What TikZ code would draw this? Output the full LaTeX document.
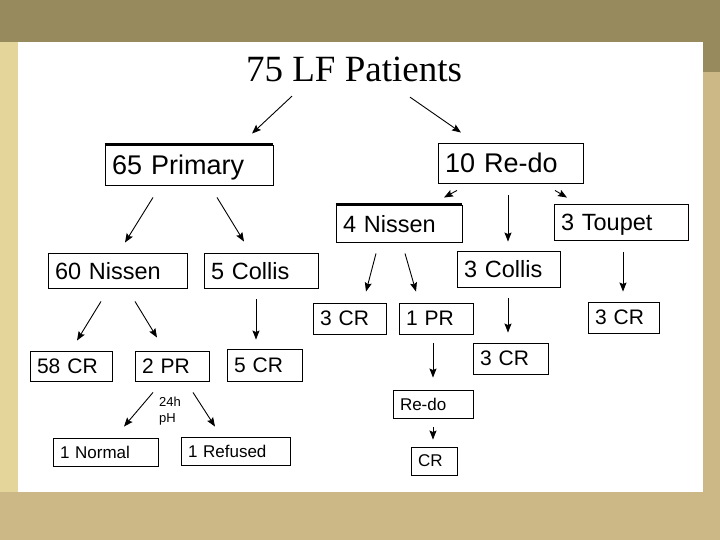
\documentclass[tikz,border=0pt]{standalone}
\usepackage{fontspec}
\setmainfont{Liberation Sans}
\newfontfamily\serifttl{Liberation Serif}
\usepackage{tikz}
\usetikzlibrary{arrows.meta,positioning,calc}
\definecolor{bgolive}{RGB}{151,138,92}
\definecolor{bgwood}{RGB}{204,184,134}
\definecolor{bglight}{RGB}{228,214,154}

\begin{document}
\begin{tikzpicture}[x=1pt,y=-1pt,>={Stealth[length=9pt,width=7pt,inset=1.5pt]},
  box/.style={draw,line width=0.9pt,align=left,inner xsep=7pt,inner ysep=0pt,
    text depth=0pt},
  fbig/.style={box,font=\fontsize{27pt}{30pt}\selectfont},
  fmid/.style={box,font=\fontsize{23.5pt}{26pt}\selectfont},
  fsml/.style={box,font=\fontsize{21pt}{24pt}\selectfont},
  ftny/.style={box,font=\fontsize{17pt}{20pt}\selectfont},
  link/.style={->,line width=0.9pt}]
  % background
  \useasboundingbox (0,0) rectangle (720,540);
  \fill[bgwood] (0,0) rectangle (720,540);
  \fill[bglight] (0,42) rectangle (18,492);
  \fill[bgolive] (0,0) rectangle (720,42);
  \fill[bgolive] (703,42) rectangle (720,72);
  \fill[white] (18,42) rectangle (703,492);
  % title
  \node[inner sep=0pt,font=\serifttl\fontsize{37pt}{40pt}\selectfont] (lf) at (354,69)
    {75 LF Patients};
  % primary branch
  \node[fbig,text width=154pt,minimum height=40pt] (prim) at (189,165) {65 Primary};
  \node[fmid,text width=125pt,minimum height=35pt] (nis60) at (117.5,270.5) {60 Nissen};
  \node[fmid,text width=100pt,minimum height=35pt] (col5) at (261,270.5) {5 Collis};
  \node[fsml,text width=68pt,minimum height=30pt] (cr58) at (71,366) {58 CR};
  \node[fsml,text width=60pt,minimum height=30pt] (pr2) at (172,366) {2 PR};
  \node[fsml,text width=61pt,minimum height=32pt] (cr5) at (264.5,365) {5 CR};
  \node[ftny,text width=91pt,minimum height=28pt] (norm) at (105.5,452) {1 Normal};
  \node[ftny,text width=95pt,minimum height=28pt] (refu) at (235.5,451) {1 Refused};
  \node[align=left,inner sep=0pt,font=\fontsize{13pt}{16pt}\selectfont] (ph) at (170,411)
    {24h\\pH};
  % re-do branch
  \node[fbig,text width=131pt,minimum height=40pt] (redo) at (510.5,163) {10 Re-do};
  \node[fmid,text width=112pt,minimum height=37pt] (nis4) at (399,223.5) {4 Nissen};
  \node[fmid,text width=89pt,minimum height=36pt] (col3) at (508.5,269) {3 Collis};
  \node[fmid,text width=120pt,minimum height=36pt] (toup) at (621,222) {3 Toupet};
  \node[fsml,text width=59pt,minimum height=31pt] (crn) at (349.5,318.5) {3 CR};
  \node[fsml,text width=60pt,minimum height=31pt] (pr1) at (436,318.5) {1 PR};
  \node[fsml,text width=61pt,minimum height=31pt] (crc) at (510.5,358.5) {3 CR};
  \node[fsml,text width=57pt,minimum height=31pt] (crt) at (623.5,317.5) {3 CR};
  \node[ftny,text width=66pt,minimum height=28pt] (redo2) at (433,404) {Re-do};
  \node[ftny,text width=32pt,minimum height=28pt] (crr) at (434,461) {CR};
  % heavy top edges
  \foreach \n in {prim,nis4}
    \draw[line width=2.5pt] (\n.north west) -- (\n.north east);
  % arrows
  \foreach \s/\sx/\sy/\t/\tx/\ty in {lf/-62/-14.5/prim/63/11, lf/56/-15.5/redo/-49.5/10,
      prim/-36/-12/nis60/7.5/10, prim/28/-12/col5/-17/11,
      nis60/-16.5/-13/cr58/6/10, nis60/17.5/-13/pr2/-15/13, col5/-5/-11/cr5/-8.5/9,
      pr2/-19/-11/norm/18.5/11, pr2/21/-11/refu/-20.5/10,
      redo/-53.5/-7/nis4/45/7, redo/-2.5/-12/col3/-0.5/9, redo/44.5/-7/toup/-54/6,
      nis4/-23/-11/crn/16.5/11, nis4/6/-11/pr1/-20/11, col3/-0.5/-11/crc/-2.5/10,
      toup/2/-12/crt/-0.5/10, pr1/-3/-9/redo2/0/12, redo2/0/-9/crr/-1/7}
    \draw[link] ([xshift=\sx,yshift=\sy]\s.south) -- ([xshift=\tx,yshift=\ty]\t.north);
\end{tikzpicture}
\end{document}
